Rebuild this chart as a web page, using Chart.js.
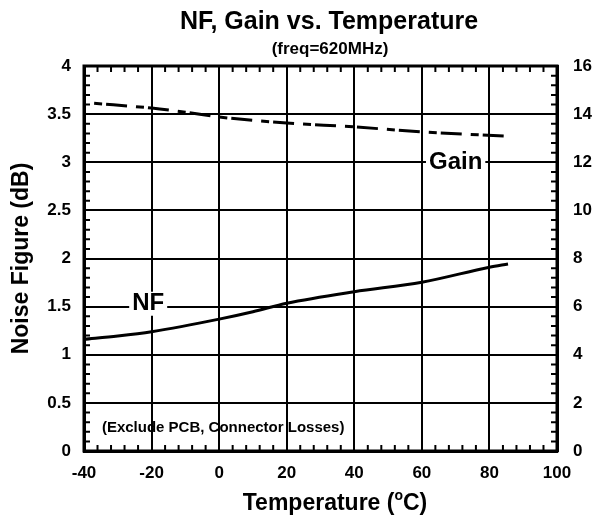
<!DOCTYPE html>
<html>
<head>
<meta charset="utf-8">
<script src="https://cdn.jsdelivr.net/npm/chart.js@4.4.0/dist/chart.umd.min.js"></script>
<style>
  html, body { margin: 0; padding: 0; background: #fff; }
</style>
</head>
<body>
<canvas id="chart" width="595" height="523"></canvas>
<script>
// NF curve (dB) vs temperature (deg C), left axis
const nfTemps = [-40, -30, -20, 0, 10, 20, 40, 60, 80, 85.5];
const nfValues = [1.16, 1.195, 1.24, 1.37, 1.447, 1.535, 1.655, 1.753, 1.909, 1.943];

// Gain curve (dB) vs temperature, right axis
const gainTemps = [-37, -20, -10, 0, 20, 40, 60, 85];
const gainValues = [14.45, 14.25, 14.08, 13.88, 13.63, 13.47, 13.26, 13.09];

// axis ticks
const tempTicks = [-40, -20, 0, 20, 40, 60, 80, 100];
const nfTicks = [0, 0.5, 1, 1.5, 2, 2.5, 3, 3.5, 4];
const gainTicks = [0, 2, 4, 6, 8, 10, 12, 14, 16];

const FONT = 'Liberation Sans, Arial, Helvetica, sans-serif';

function toPoints(xs, ys) {
    return xs.map((x, i) => ({ x: x, y: ys[i] }));
}

function setTicks(values) {
    return scale => { scale.ticks = values.map(v => ({ value: v })); };
}

function boxedLabel(ctx, text, x, y, size) {
    ctx.font = 'bold ' + size + 'px ' + FONT;
    const w = ctx.measureText(text).width;
    ctx.fillStyle = '#fff';
    ctx.fillRect(x - w / 2 - 3, y - size / 2, w + 6, size);
    ctx.fillStyle = '#000';
    ctx.textAlign = 'center';
    ctx.textBaseline = 'middle';
    ctx.fillText(text, x, y);
}

// x axis title with a raised "o" for degrees
function drawTempTitle(ctx, cx, cy) {
    const big = 'bold 23px ' + FONT;
    const small = 'bold 14px ' + FONT;
    ctx.font = big;
    const w1 = ctx.measureText('Temperature (').width;
    const w3 = ctx.measureText('C)').width;
    ctx.font = small;
    const w2 = ctx.measureText('o').width;
    let x = cx - (w1 + w2 + w3) / 2;
    ctx.textAlign = 'left';
    ctx.textBaseline = 'middle';
    ctx.font = big;
    ctx.fillText('Temperature (', x, cy);
    x += w1;
    ctx.font = small;
    ctx.fillText('o', x, cy - 8);
    x += w2;
    ctx.font = big;
    ctx.fillText('C)', x, cy);
}

// titles, minor ticks, curve labels, note and frame
const decorations = {
    id: 'decorations',
    beforeDraw(chart) {
        const { ctx } = chart;
        ctx.save();
        ctx.fillStyle = '#000';
        ctx.textAlign = 'center';
        ctx.textBaseline = 'middle';
        ctx.font = 'bold 25px ' + FONT;
        ctx.fillText('NF, Gain vs. Temperature', 329, 22);
        ctx.font = 'bold 17px ' + FONT;
        ctx.fillText('(freq=620MHz)', 330, 49);
        drawTempTitle(ctx, 335, 504);
        ctx.restore();
    },
    afterDatasetsDraw(chart) {
        const { ctx, chartArea: a, scales } = chart;
        ctx.save();
        ctx.strokeStyle = '#000';
        ctx.lineWidth = 2;
        ctx.beginPath();
        for (let t = -40; t <= 100; t += 4) {
            if (t % 20 === 0) continue;
            const px = scales.x.getPixelForValue(t);
            ctx.moveTo(px, a.bottom); ctx.lineTo(px, a.bottom - 6);
            ctx.moveTo(px, a.top); ctx.lineTo(px, a.top + 6);
        }
        for (let i = 0; i <= 40; i++) {
            if (i % 5 === 0) continue;
            const py = scales.y.getPixelForValue(i / 10);
            ctx.moveTo(a.left, py); ctx.lineTo(a.left + 6, py);
            const py2 = scales.y2.getPixelForValue(i * 0.4);
            ctx.moveTo(a.right, py2); ctx.lineTo(a.right - 6, py2);
        }
        ctx.stroke();

        boxedLabel(ctx, 'NF', scales.x.getPixelForValue(-21), scales.y.getPixelForValue(1.53), 24);
        boxedLabel(ctx, 'Gain', scales.x.getPixelForValue(70), scales.y2.getPixelForValue(12), 24);

        ctx.font = 'bold 15px ' + FONT;
        ctx.textAlign = 'left';
        ctx.textBaseline = 'middle';
        ctx.fillText('(Exclude PCB, Connector Losses)', scales.x.getPixelForValue(-34.7), scales.y.getPixelForValue(0.24));

        ctx.lineWidth = 3;
        ctx.strokeRect(a.left, a.top, a.right - a.left, a.bottom - a.top);
        ctx.restore();
    }
};

const ctx = document.getElementById('chart');

new Chart(ctx, {
    type: 'scatter',
    data: {
        datasets: [
            {
                label: 'NF',
                data: toPoints(nfTemps, nfValues),
                showLine: true,
                borderColor: '#000',
                borderWidth: 3,
                pointRadius: 0,
                cubicInterpolationMode: 'monotone',
                yAxisID: 'y'
            },
            {
                label: 'Gain',
                data: toPoints(gainTemps, gainValues),
                showLine: true,
                borderColor: '#000',
                borderWidth: 3,
                borderDash: [8, 4, 21, 9],
                pointRadius: 0,
                cubicInterpolationMode: 'monotone',
                yAxisID: 'y2'
            }
        ]
    },
    options: {
        responsive: false,
        animation: false,
        devicePixelRatio: 1,
        layout: { padding: { top: 66 } },
        plugins: {
            legend: { display: false },
            tooltip: { enabled: false }
        },
        scales: {
            x: {
                type: 'linear',
                min: -40,
                max: 100,
                afterBuildTicks: setTicks(tempTicks),
                afterFit: s => { s.height = 72; },
                grid: { color: '#000', lineWidth: 2, drawTicks: false },
                border: { color: '#000', width: 3 },
                ticks: { color: '#000', padding: 12, font: { family: FONT, size: 17, weight: 'bold' } }
            },
            y: {
                type: 'linear',
                position: 'left',
                min: 0,
                max: 4,
                afterBuildTicks: setTicks(nfTicks),
                afterFit: s => { s.width = 84; },
                grid: { color: '#000', lineWidth: 2, drawTicks: false },
                border: { color: '#000', width: 3 },
                ticks: {
                    color: '#000',
                    padding: 13,
                    font: { family: FONT, size: 17, weight: 'bold' },
                    callback: v => String(v)
                },
                title: {
                    display: true,
                    text: 'Noise Figure (dB)',
                    color: '#000',
                    font: { family: FONT, size: 23, weight: 'bold' },
                    padding: { top: 8, bottom: 0 }
                }
            },
            y2: {
                type: 'linear',
                position: 'right',
                min: 0,
                max: 16,
                afterBuildTicks: setTicks(gainTicks),
                afterFit: s => { s.width = 38; },
                grid: { display: false, drawTicks: false },
                border: { color: '#000', width: 3 },
                ticks: {
                    color: '#000',
                    padding: 16,
                    font: { family: FONT, size: 17, weight: 'bold' },
                    callback: v => String(v)
                }
            }
        }
    },
    plugins: [decorations]
});
</script>
</body>
</html>
